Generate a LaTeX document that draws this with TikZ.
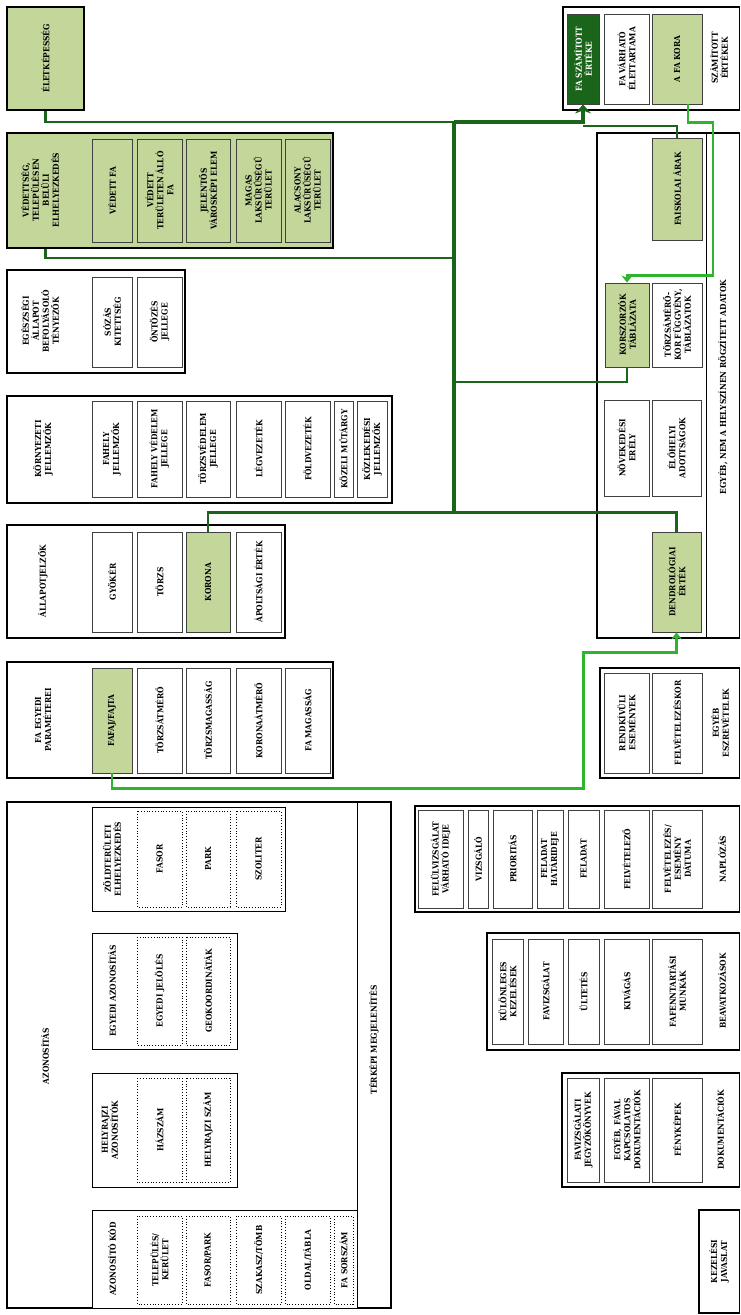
\documentclass[tikz,border=0pt]{standalone}
\usepackage{fontspec}
\setmainfont{DejaVu Serif Condensed}
\usetikzlibrary{positioning, arrows.meta}
\definecolor{leaf}{HTML}{C4D79B}
\definecolor{pine}{HTML}{1B651B}
\definecolor{sprout}{HTML}{2DB52D}

\begin{document}
\begin{tikzpicture}[x=1pt, y=-1pt,
        cell/.style n args={4}{at={({(#1+#3)/2},{(#2+#4)/2})}, minimum width={(#4)-(#2)}, minimum height={(#3)-(#1)}},
        txt/.style={rotate=90, align=center, inner sep=1pt, font=\bfseries\fontsize{8.3}{10}\selectfont},
        grpbox/.style={txt, draw=black, line width=1.5pt, fill=white},
        subgrp/.style={txt, draw=black, line width=0.9pt, fill=white},
        inbox/.style={txt, draw=black!75, line width=0.9pt, fill=white},
        dotbox/.style={txt, draw=black, dotted, line width=0.8pt},
        link/.style={draw=pine, line width=2.6pt},
        bus/.style={draw=pine, line width=4.6pt},
        lite/.style={draw=sprout, line width=2.6pt},
        tip/.style={-{Stealth[length=7pt, width=11pt]}},
        bigtip/.style={-{Stealth[length=9pt, width=16pt]}},
    ]
    \fill[white] (0,0) rectangle (741,1315);
    \useasboundingbox (0,0) rectangle (741,1315);

    % === Eletkepesseg ===
    \node[grpbox, fill=leaf, cell={7}{7}{84}{110}] (elet) {ÉLETKÉPESSÉG};

    % === Vedettseg ===
    \node[grpbox, fill=leaf, cell={7}{133}{333}{248}] (vedett) {};
    \node[txt] (vedett-l) at (40,190) {VÉDETTSÉG,\\TELEPÜLÉSEN\\BELÜLI\\ELHELYEZKEDÉS};
    \foreach \nm/\xa/\xb/\lbl in {vfa/92/132/{VÉDETT FA}, vter/137/182/{VÉDETT\\TERÜLETEN ÁLLÓ\\FA},
            jel/186/230/{JELENTŐS\\VÁROSKÉPI ELEM}, magas/236/281/{MAGAS\\LAKSŰRŰSÉGŰ\\TERÜLET},
            alacs/285/330/{ALACSONY\\LAKSŰRŰSÉGŰ\\TERÜLET}} {
        \node[inbox, fill=leaf, cell={\xa}{139}{\xb}{242}] (\nm) {\lbl};
    }

    % === Egeszsegi allapot ===
    \node[grpbox, cell={7}{270}{185}{373}] (egesz) {};
    \node[txt] (egesz-l) at (40,321) {EGÉSZSÉGI\\ÁLLAPOT\\BEFOLYÁSOLÓ\\TÉNYEZŐK};
    \node[inbox, cell={92}{277}{132}{367}] (sozas) {SÓZÁS\\KITETTSÉG};
    \node[inbox, cell={137}{277}{182}{367}] (ontoz) {ÖNTÖZÉS\\JELLEGE};

    % === Kornyezeti jellemzok ===
    \node[grpbox, cell={7}{396}{392}{503}] (korny) {};
    \node[txt] (korny-l) at (43,449) {KÖRNYEZETI\\JELLEMZŐK};
    \foreach \nm/\xa/\xb/\lbl in {fahely/92/132/{FAHELY\\JELLEMZŐK}, fvedel/137/182/{FAHELY VÉDELEM\\JELLEGE},
            tvedel/186/230/{TÖRZSVÉDELEM\\JELLEGE}, legv/236/281/{LÉGVEZETÉK}, foldv/285/330/{FÖLDVEZETÉK},
            mutargy/334/353/{KÖZELI MŰTÁRGY}, kozlek/357/387/{KÖZLEKEDÉSI\\JELLEMZŐK}} {
        \node[inbox, cell={\xa}{401}{\xb}{497}] (\nm) {\lbl};
    }

    % === Allapotjelzok ===
    \node[grpbox, cell={7}{525}{285}{638}] (allap) {};
    \node[txt] (allap-l) at (43,581) {ÁLLAPOTJELZŐK};
    \foreach \nm/\xa/\xb/\fl/\lbl in {gyoker/92/132/white/{GYÖKÉR}, torzs/137/182/white/{TÖRZS},
            korona/186/230/leaf/{KORONA}, apolt/236/281/white/{ÁPOLTSÁGI ÉRTÉK}} {
        \node[inbox, fill=\fl, cell={\xa}{532}{\xb}{632}] (\nm) {\lbl};
    }

    % === Fa egyedi parameterei ===
    \node[grpbox, cell={7}{662}{333}{778}] (egyedi) {};
    \node[txt] (egyedi-l) at (43,720) {FA EGYEDI\\PARAMÉTEREI};
    \foreach \nm/\xa/\xb/\fl/\lbl in {fafaj/92/132/leaf/{FAFAJ/FAJTA}, tatm/137/182/white/{TÖRZSÁTMÉRŐ},
            tmag/186/230/white/{TÖRZSMAGASSÁG}, katm/236/281/white/{KORONAÁTMÉRŐ}, famag/285/330/white/{FA MAGASSÁG}} {
        \node[inbox, fill=\fl, cell={\xa}{668}{\xb}{773}] (\nm) {\lbl};
    }

    % === Azonositas ===
    \node[grpbox, cell={7}{802}{391}{1308}] (azon) {};
    \draw[line width=1.2pt] ([xshift=-34pt]azon.south east) -- ([xshift=-34pt]azon.south west);
    \node[txt] (azon-l) at (45,1056) {AZONOSÍTÁS};
    \node[txt] (terkep-l) at (374,1040) {TÉRKÉPI MEGJELENÍTÉS};

    \node[subgrp, cell={92}{807}{285}{911}] (zold) {};
    \node[txt] (zold-l) at (112,859) {ZÖLDTERÜLETI\\ELHELYEZKEDÉS};
    \foreach \nm/\xa/\xb/\lbl in {fasor/137/182/{FASOR}, park/186/230/{PARK}, szolit/236/281/{SZOLITER}} {
        \node[dotbox, cell={\xa}{811}{\xb}{907}] (\nm) {\lbl};
    }

    \node[subgrp, cell={92}{933}{237}{1049}] (egyazon) {};
    \node[txt] (egyazon-l) at (112,991) {EGYEDI AZONOSÍTÁS};
    \node[dotbox, cell={137}{937}{182}{1045}] (ejel) {EGYEDI JELÖLÉS};
    \node[dotbox, cell={186}{937}{230}{1045}] (geo) {GEOKOORDINÁTÁK};

    \node[subgrp, cell={92}{1073}{237}{1187}] (hrsz) {};
    \node[txt] (hrsz-l) at (110,1130) {HELYRAJZI\\AZONOSÍTÓK};
    \node[dotbox, cell={137}{1078}{182}{1182}] (hazsz) {HÁZSZÁM};
    \node[dotbox, cell={186}{1078}{230}{1182}] (hrszam) {HELYRAJZI SZÁM};

    \node[subgrp, cell={92}{1210}{357}{1308}] (azkod) {};
    \node[txt] (azkod-l) at (112,1259) {AZONOSÍTÓ KÓD};
    \foreach \nm/\xa/\xb/\lbl in {telep/137/182/{TELEPÜLÉS/\\KERÜLET}, fpark/186/230/{FASOR/PARK},
            szak/236/281/{SZAKASZ/TÖMB}, oldal/285/330/{OLDAL/TÁBLA}, sorsz/334/353/{FA SORSZÁM}} {
        \node[dotbox, cell={\xa}{1216}{\xb}{1304}] (\nm) {\lbl};
    }

    % === Szamitott ertekek ===
    \node[grpbox, cell={563}{7}{739.5}{110}] (szam) {};
    \node[txt] (szam-l) at (719,58) {SZÁMÍTOTT\\ÉRTÉKEK};
    \node[inbox, fill=pine, text=white, cell={567}{14}{599}{104}] (fsz) {FA SZÁMÍTOTT\\ÉRTÉKE};
    \node[inbox, cell={604}{14}{649}{104}] (elettart) {FA VÁRHATÓ\\ÉLETTARTAMA};
    \node[inbox, fill=leaf, cell={652}{14}{702}{104}] (kora) {A FA KORA};

    % === Egyeb, nem a helyszinen rogzitett ===
    \node[grpbox, cell={597}{133}{739.5}{638}] (egyeb) {};
    \draw[line width=1.2pt] ([xshift=-34pt]egyeb.south east) -- ([xshift=-34pt]egyeb.south west);
    \node[txt] (egyeb-l) at (723,387) {EGYÉB, NEM A HELYSZÍNEN RÖGZÍTETT ADATOK};
    \node[inbox, fill=leaf, cell={652}{138}{702}{240}] (faisk) {FAISKOLAI ÁRAK};
    \node[inbox, fill=leaf, cell={605}{283}{649}{367}] (korsz) {KORSZORZÓK\\TÁBLÁZATA};
    \node[inbox, cell={652}{283}{702}{367}] (tfugg) {TÖRZSÁMÉRŐ-\\KOR FÜGGVÉNY,\\TÁBLÁZATOK};
    \node[inbox, cell={604}{400}{649}{496}] (noveked) {NÖVEKEDÉSI\\ERÉLY};
    \node[inbox, cell={652}{400}{701}{496}] (elohely) {ÉLŐHELYI\\ADOTTSÁGOK};
    \node[inbox, fill=leaf, cell={652}{532}{701}{632}] (dendro) {DENDROLÓGIAI\\ÉRTÉK};

    % === Egyeb eszrevetelek ===
    \node[grpbox, cell={600}{668}{739.5}{778}] (eszr) {};
    \node[txt] (eszr-l) at (720,723) {EGYÉB\\ESZREVÉTELEK};
    \node[inbox, cell={604}{673}{649}{773}] (rendk) {RENDKÍVÜLI\\ESEMÉNYEK};
    \node[inbox, cell={652}{673}{702}{773}] (felvkor) {FELVÉTELEZÉSKOR};

    % === Naplozas ===
    \node[grpbox, cell={415}{806}{739.5}{912}] (napl) {};
    \node[txt] (napl-l) at (722,859) {NAPLÓZÁS};
    \foreach \nm/\xa/\xb/\lbl in {felulv/418/463/{FELÜLVIZSGÁLAT\\VÁRHATÓ IDEJE}, vizsg/468/488/{VIZSGÁLÓ},
            prio/493/532/{PRIORITÁS}, hatarid/537/563/{FELADAT\\HATÁRIDEJE}, feladat/568/599/{FELADAT},
            felvez/604/649/{FELVÉTELEZŐ}, datum/652/702/{FELVÉTELEZÉS/\\ESEMÉNY\\DÁTUMA}} {
        \node[inbox, cell={\xa}{810}{\xb}{908}] (\nm) {\lbl};
    }

    % === Beavatkozasok ===
    \node[grpbox, cell={487}{933}{739.5}{1050}] (beav) {};
    \node[txt] (beav-l) at (722,991) {BEAVATKOZÁSOK};
    \foreach \nm/\xa/\xb/\lbl in {kulon/492/523/{KÜLÖNLEGES\\KEZELÉSEK}, favizs/528/563/{FAVIZSGÁLAT},
            ultet/568/599/{ÜLTETÉS}, kivag/604/649/{KIVÁGÁS}, fafennt/652/702/{FAFENNTARTÁSI\\MUNKÁK}} {
        \node[inbox, cell={\xa}{939}{\xb}{1044}] (\nm) {\lbl};
    }

    % === Dokumentaciok ===
    \node[grpbox, cell={562}{1073}{739.5}{1187}] (dok) {};
    \node[txt] (dok-l) at (720,1130) {DOKUMENTÁCIÓK};
    \node[inbox, cell={567}{1078}{599}{1182}] (jegyz) {FAVIZSGÁLATI\\JEGYZŐKÖNYVEK};
    \node[inbox, cell={604}{1078}{649}{1182}] (egydok) {EGYÉB, FÁVAL\\KAPCSOLATOS\\DOKUMENTÁCIÓK};
    \node[inbox, cell={652}{1078}{702}{1182}] (fenyk) {FÉNYKÉPEK};

    % === Kezelesi javaslat ===
    \node[grpbox, cell={699}{1210}{739.5}{1313}] (kez) {KEZELÉSI\\JAVASLAT};

    % === connectors ===
    \coordinate (busTop) at (454,122);
    \coordinate (busVed) at (454,258);
    \coordinate (busMid) at (454,382);
    \coordinate (busBot) at (454,513);
    \coordinate (fszfoot) at ([yshift=-22pt]fsz.west);
    \draw[bus] (busTop) -- (busBot);
    \draw[link] (elet.west) |- (busTop);
    \draw[link] (vedett.west -| elet.west) |- (busVed);
    \draw[link] (korsz.west) |- (busMid);
    \draw[link] (korona.east) -- ++(0,-19) -| (dendro.east);
    \draw[link, line width=2pt] (faisk.east) |- (fszfoot);
    \draw[bus, bigtip] (busTop) -| (fsz.west);
    \draw[lite, tip] (fafaj.west) -- ++(0,15) -| ++(471.5,-136) -| (dendro.west);
    \draw[lite, tip] ([xshift=11pt]kora.west) -- ++(0,18) -| ++(25,153) -| (korsz.east);
\end{tikzpicture}
\end{document}
